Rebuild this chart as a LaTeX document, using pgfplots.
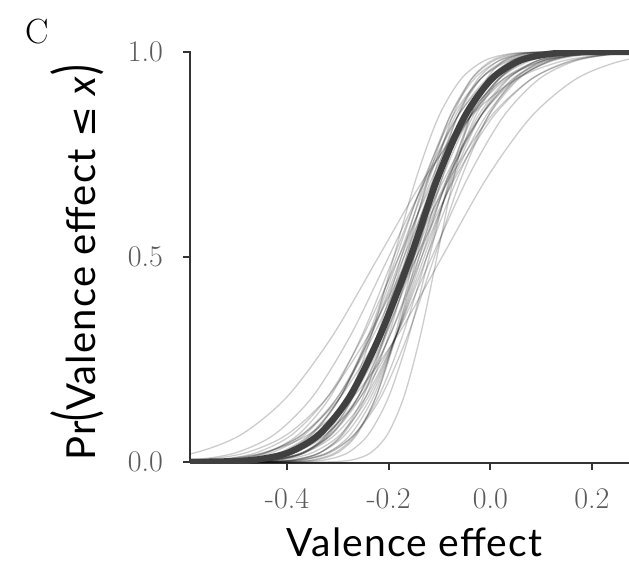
\documentclass[border=0pt]{standalone}
\usepackage{fontspec}
\usepackage{graphicx}
\usepackage{pgfplots}
\pgfplotsset{compat=1.18}
\usepackage{pgfplotstable}

\newfontfamily\labelfont{Lato}[LetterSpace=3]
\newfontfamily\symfont{DejaVu Sans}
\definecolor{axcol}{HTML}{333333}
\definecolor{tickcol}{HTML}{5A5A5A}
\definecolor{meancol}{HTML}{404040}

% Posterior CDF draws of the valence effect: column p is the cumulative
% probability, columns c1..c36 are the x positions of each draw, dk is the mean curve.
\pgfplotstableread{
p       c1     c2     c3      c4      c5     c6     c7     c8     c9     c10    c11    c12     c13    c14    c15    c16     c17    c18     c19    c20    c21     c22     c23    c24     dk
0       -1.00  -1.00  -1.00   -1.00   -1.00  -1.00  -1.00  -1.00  -1.00  -1.00  -1.00  -1.00   -1.00  -1.00  -1.00  -1.00   -1.00  -1.00   -1.00  -1.00  -1.00   -1.00   -1.00  -1.00   -1.00
0.00003 -0.94  -0.542 -0.365  -0.795  -0.632 -0.570 -0.670 -0.740 -0.500 -0.570 -0.655 -0.575  -0.440 -0.800 -0.745 -0.505  -0.625 -0.635  -0.675 -0.800 -0.450  -0.505  -0.690 -0.600  -0.637
0.00135 -0.76  -0.454 -0.300  -0.620  -0.514 -0.470 -0.540 -0.600 -0.410 -0.460 -0.535 -0.470  -0.360 -0.650 -0.595 -0.420  -0.515 -0.510  -0.535 -0.640 -0.375  -0.410  -0.560 -0.485  -0.517
0.00621 -0.67  -0.410 -0.2675 -0.5325 -0.455 -0.420 -0.475 -0.530 -0.365 -0.405 -0.475 -0.4175 -0.320 -0.575 -0.520 -0.3775 -0.460 -0.4475 -0.465 -0.560 -0.3375 -0.3625 -0.495 -0.4275 -0.457
0.02275 -0.58  -0.366 -0.235  -0.445  -0.396 -0.370 -0.410 -0.460 -0.320 -0.350 -0.415 -0.365  -0.280 -0.500 -0.445 -0.335  -0.405 -0.385  -0.395 -0.480 -0.300  -0.315  -0.430 -0.370  -0.397
0.06681 -0.49  -0.322 -0.2025 -0.3575 -0.337 -0.320 -0.345 -0.390 -0.275 -0.295 -0.355 -0.3125 -0.240 -0.425 -0.370 -0.2925 -0.350 -0.3225 -0.325 -0.400 -0.2625 -0.2675 -0.365 -0.3125 -0.337
0.15866 -0.40  -0.278 -0.170  -0.270  -0.278 -0.270 -0.280 -0.320 -0.230 -0.240 -0.295 -0.260  -0.200 -0.350 -0.295 -0.250  -0.295 -0.260  -0.255 -0.320 -0.225  -0.220  -0.300 -0.255  -0.277
0.30854 -0.31  -0.234 -0.1375 -0.1825 -0.219 -0.220 -0.215 -0.250 -0.185 -0.185 -0.235 -0.2075 -0.160 -0.275 -0.220 -0.2075 -0.240 -0.1975 -0.185 -0.240 -0.1875 -0.1725 -0.235 -0.1975 -0.217
0.5     -0.22  -0.190 -0.105  -0.095  -0.160 -0.170 -0.150 -0.180 -0.140 -0.130 -0.175 -0.155  -0.120 -0.200 -0.145 -0.165  -0.185 -0.135  -0.115 -0.160 -0.150  -0.125  -0.170 -0.140  -0.157
0.69146 -0.13  -0.146 -0.0725 -0.0075 -0.101 -0.120 -0.085 -0.110 -0.095 -0.075 -0.115 -0.1025 -0.080 -0.125 -0.070 -0.1225 -0.130 -0.0725 -0.045 -0.080 -0.1125 -0.0775 -0.105 -0.0825 -0.104
0.84134 -0.04  -0.102 -0.040   0.080  -0.042 -0.070 -0.020 -0.040 -0.050 -0.020 -0.055 -0.050  -0.040 -0.050  0.005 -0.080  -0.075 -0.010   0.025  0.000 -0.075  -0.030  -0.040 -0.025  -0.051
0.93319  0.05  -0.058 -0.0075  0.1675  0.017 -0.020  0.045  0.030 -0.005  0.035  0.005  0.0025  0.000  0.025  0.080 -0.0375 -0.020  0.0525  0.095  0.080 -0.0375  0.0175  0.025  0.0325  0.002
0.97725  0.14  -0.014  0.025   0.255   0.076  0.030  0.110  0.100  0.040  0.090  0.065  0.055   0.040  0.100  0.155  0.005   0.035  0.115   0.165  0.160  0.000   0.065   0.090  0.090   0.055
0.99379  0.23   0.030  0.0575  0.3425  0.135  0.080  0.175  0.170  0.085  0.145  0.125  0.1075  0.080  0.175  0.230  0.0475  0.090  0.1775  0.235  0.240  0.0375  0.1125  0.155  0.1475  0.108
0.99865  0.32   0.074  0.090   0.430   0.194  0.130  0.240  0.240  0.130  0.200  0.185  0.160   0.120  0.250  0.305  0.090   0.145  0.240   0.305  0.320  0.075   0.160   0.220  0.205   0.161
0.99997  0.50   0.162  0.155   0.605   0.312  0.230  0.370  0.380  0.220  0.310  0.305  0.265   0.200  0.400  0.455  0.175   0.255  0.365   0.445  0.480  0.150   0.255   0.350  0.320   0.267
1        0.70   0.70   0.70    0.70    0.70   0.70   0.70   0.70   0.70   0.70   0.70   0.70    0.70   0.70   0.70   0.70    0.70   0.70    0.70   0.70   0.70    0.70    0.70   0.70    0.70
}\cdfA

\pgfplotstableread{
p       c25    c26     c27    c28    c29    c30    c31     c32     c33    c34     c35    c36
0       -1.00  -1.00   -1.00  -1.00  -1.00  -1.00  -1.00   -1.00   -1.00  -1.00   -1.00  -1.00
0.00003 -0.590 -0.555  -0.535 -0.720 -0.465 -0.605 -0.690   -0.530  -0.605 -0.645   -0.515 -0.640
0.00135 -0.480 -0.460  -0.435 -0.580 -0.385 -0.485 -0.565   -0.425  -0.495 -0.520   -0.425 -0.525
0.00621 -0.425 -0.4125 -0.385 -0.510 -0.345 -0.425 -0.5025  -0.3725 -0.440 -0.4575  -0.380 -0.4675
0.02275 -0.370 -0.365  -0.335 -0.440 -0.305 -0.365 -0.440   -0.320  -0.385 -0.395   -0.335 -0.410
0.06681 -0.315 -0.3175 -0.285 -0.370 -0.265 -0.305 -0.3775  -0.2675 -0.330 -0.3325  -0.290 -0.3525
0.15866 -0.260 -0.270  -0.235 -0.300 -0.225 -0.245 -0.315   -0.215  -0.275 -0.270   -0.245 -0.295
0.30854 -0.205 -0.2225 -0.185 -0.230 -0.185 -0.185 -0.2525  -0.1625 -0.220 -0.2075  -0.200 -0.2375
0.5     -0.150 -0.175  -0.135 -0.160 -0.145 -0.125 -0.190   -0.110  -0.165 -0.145   -0.155 -0.180
0.69146 -0.095 -0.1275 -0.085 -0.090 -0.105 -0.065 -0.1275  -0.0575 -0.110 -0.0825  -0.110 -0.1225
0.84134 -0.040 -0.080  -0.035 -0.020 -0.065 -0.005 -0.065   -0.005  -0.055 -0.020   -0.065 -0.065
0.93319  0.015 -0.0325  0.015  0.050 -0.025  0.055 -0.0025   0.0475  0.000  0.0425  -0.020 -0.0075
0.97725  0.070  0.015   0.065  0.120  0.015  0.115  0.060    0.100   0.055  0.105    0.025  0.050
0.99379  0.125  0.0625  0.115  0.190  0.055  0.175  0.1225   0.1525  0.110  0.1675   0.070  0.1075
0.99865  0.180  0.110   0.165  0.260  0.095  0.235  0.185    0.205   0.165  0.230    0.115  0.165
0.99997  0.290  0.205   0.265  0.400  0.175  0.355  0.310    0.310   0.275  0.355    0.205  0.280
1        0.70   0.70    0.70   0.70   0.70   0.70   0.70     0.70    0.70   0.70     0.70   0.70
}\cdfB

\begin{document}
\begin{tikzpicture}
\useasboundingbox (-190bp,-98.8bp) rectangle (439bp,463.2bp);
\begin{axis}[
  at={(0,0)}, anchor=south west,
  scale only axis, width=439bp, height=412.5bp,
  xmin=-0.5908, xmax=0.2728, ymin=-0.003, ymax=1.003,
  axis x line*=bottom, axis y line*=left,
  axis line style={draw=axcol, line width=2bp, -},
  tick align=outside, major tick length=7bp,
  tick style={draw=axcol, line width=2bp},
  xtick={-0.4,-0.2,0,0.2}, xticklabels={-0.4,-0.2,0.0,0.2},
  ytick={0,0.5,1}, yticklabels={0.0,0.5,1.0},
  ticklabel style={font=\fontsize{30bp}{30bp}\selectfont, text=tickcol, inner sep=0pt},
  xticklabel style={anchor=north, yshift=-18bp},
  yticklabel style={anchor=east, xshift=-20bp},
  xlabel={\labelfont\fontsize{39bp}{41bp}\selectfont Valence effect},
  ylabel={\labelfont\fontsize{40bp}{42bp}\selectfont Pr\scalebox{1}[1.45]{(}Valence effect {\symfont\fontsize{37bp}{42bp}\selectfont ≤} \textit{x}\scalebox{1}[1.45]{)}},
  x label style={at={(axis description cs:0.5,0)}, anchor=base, inner sep=0pt, yshift=-93bp, xshift=5bp},
  y label style={at={(axis description cs:0,0.486)}, anchor=base, inner sep=0pt, yshift=94bp},
]
\pgfplotsinvokeforeach{1,...,24}{
  \addplot[black, opacity=0.2, line width=1.3bp, smooth] table[x=c#1, y=p]{\cdfA};
}
\pgfplotsinvokeforeach{25,...,36}{
  \addplot[black, opacity=0.2, line width=1.3bp, smooth] table[x=c#1, y=p]{\cdfB};
}
\addplot[meancol, line width=6.5bp, smooth] table[x=dk, y=p]{\cdfA};
\end{axis}
\node[anchor=base west, inner sep=0pt, font=\fontsize{35bp}{35bp}\selectfont] at (-165bp,420bp) {C};
\end{tikzpicture}
\end{document}
